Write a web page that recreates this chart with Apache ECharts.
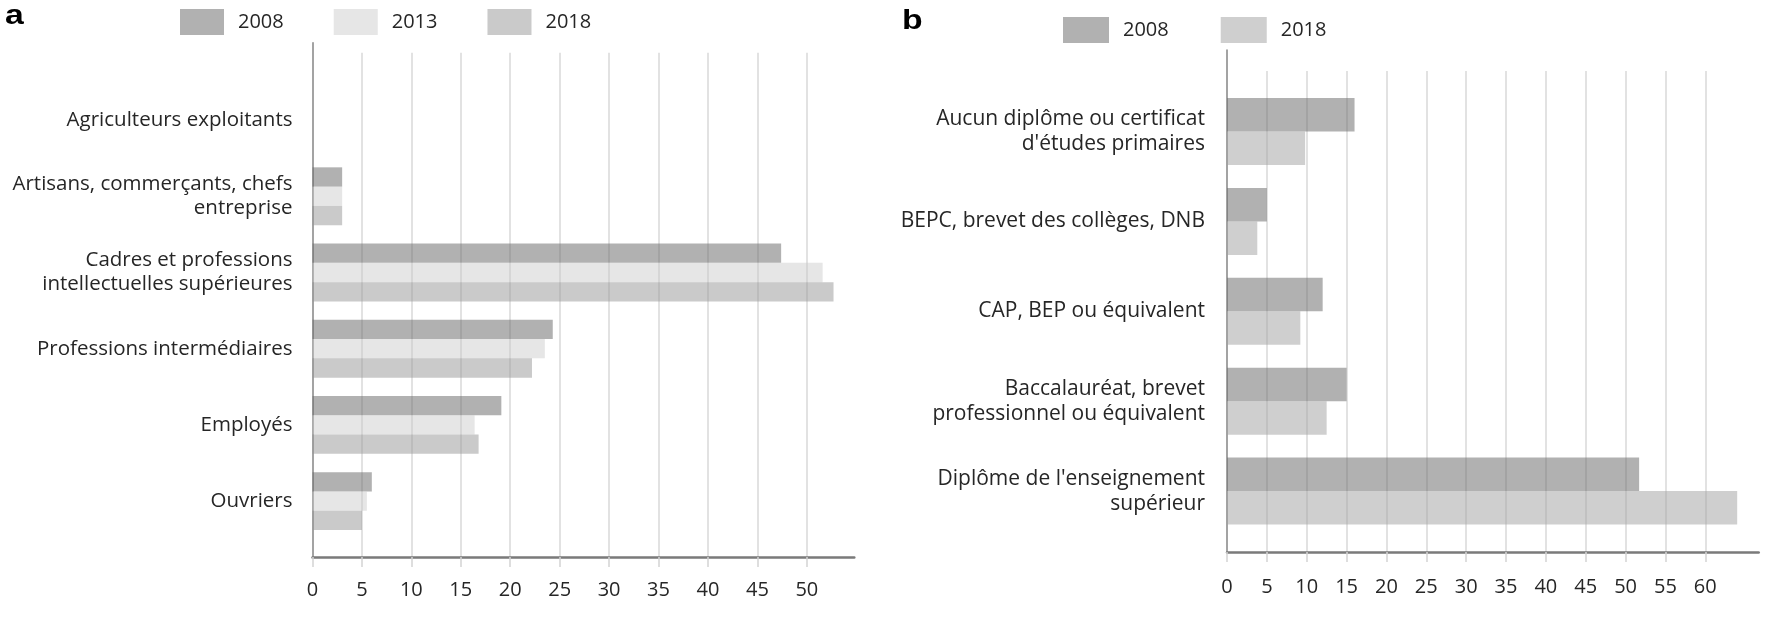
<!DOCTYPE html>
<html><head><meta charset="utf-8">
<script src="https://cdn.jsdelivr.net/npm/echarts@6/dist/echarts.min.js"></script>
<style>
html,body{margin:0;padding:0;background:#fff;width:1770px;height:619px;overflow:hidden}
#a{position:absolute;left:0;top:0;width:880px;height:619px}
#b{position:absolute;left:880px;top:0;width:890px;height:619px}
</style>
</head><body><div id="a"></div><div id="b"></div>
<script>
// ---- Data: panel a ----
const catsA = [
  'Agriculteurs exploitants',
  'Artisans, commerçants, chefs\nentreprise',
  'Cadres et professions\nintellectuelles supérieures',
  'Professions intermédiaires',
  'Employés',
  'Ouvriers'
];
const a2008 = [0, 3.0, 47.4, 24.3, 19.1, 6.0];
const a2013 = [0, 3.0, 51.6, 23.5, 16.4, 5.5];
const a2018 = [0, 3.0, 52.7, 22.2, 16.8, 5.0];
const ticksA = [0, 5, 10, 15, 20, 25, 30, 35, 40, 45, 50];

// ---- Data: panel b ----
const catsB = [
  'Aucun diplôme ou certificat\nd\'études primaires',
  'BEPC, brevet des collèges, DNB',
  'CAP, BEP ou équivalent',
  'Baccalauréat, brevet\nprofessionnel ou équivalent',
  'Diplôme de l\'enseignement\nsupérieur'
];
const b2008 = [16.0, 5.0, 12.0, 15.0, 51.7];
const b2018 = [9.8, 3.8, 9.2, 12.5, 64.0];
const ticksB = [0, 5, 10, 15, 20, 25, 30, 35, 40, 45, 50, 55, 60];

const FONT = 'Open Sans';
const TXT = '#262626';

function buildOption(p) {
  const w = p.x1 - p.x0;
  const series = p.series.map(s => ({
    type: 'bar', name: s.name, data: s.data,
    xAxisIndex: 2, yAxisIndex: 2,
    barGap: '0%', barCategoryGap: p.gap,
    itemStyle: { color: s.color },
    emphasis: { disabled: true }
  }));
  return {
    animation: false,
    graphic: [{
      type: 'text', x: p.letterX, y: p.letterY, scaleX: 1.25,
      style: { text: p.letter, font: 'bold 27px "Liberation Sans", Arial, sans-serif', fill: '#000', verticalAlign: 'top' }
    }],
    legend: {
      data: p.series.map(s => s.name),
      left: p.legendX, top: p.legendY, padding: 0,
      itemWidth: p.legendW, itemHeight: 26, itemGap: p.legendGap,
      icon: 'rect',
      textStyle: { fontFamily: FONT, fontSize: 20, color: TXT, padding: [0, 0, 0, 9] }
    },
    grid: [
      { left: p.x0, top: p.frameTop, width: w, height: p.axisY - p.frameTop, containLabel: false },
      { left: p.x0, top: p.axisTop, width: 10, height: p.axisY - p.axisTop, containLabel: false },
      { left: p.x0, top: p.bandTop, width: w, height: p.bandBottom - p.bandTop, containLabel: false }
    ],
    xAxis: [
      {
        gridIndex: 0, type: 'value', min: 0, max: p.max, interval: 5,
        axisLine: { show: true, onZero: false, lineStyle: { color: '#7a7a7a', width: 2.5 } },
        axisTick: { show: true, length: 10, customValues: p.ticks, lineStyle: { color: '#d4d4d4', width: 1.5 } },
        axisLabel: { show: true, customValues: p.ticks, fontFamily: FONT, fontSize: 20, color: TXT, margin: p.labelMargin },
        splitLine: { show: true, showMinLine: false, lineStyle: { color: '#d9d9d9', width: 1.5 } }
      },
      { gridIndex: 1, type: 'value', show: false, min: 0, max: 1 },
      { gridIndex: 2, type: 'value', show: false, min: 0, max: p.max }
    ],
    yAxis: [
      { gridIndex: 0, type: 'value', show: false, min: 0, max: 1 },
      {
        gridIndex: 1, type: 'value', min: 0, max: 1,
        axisLine: { show: true, onZero: false, lineStyle: { color: '#858585', width: 1.5 } },
        axisTick: { show: false }, axisLabel: { show: false }, splitLine: { show: false }
      },
      {
        gridIndex: 2, type: 'category', data: p.cats, inverse: true,
        axisLine: { show: false }, axisTick: { show: false }, splitLine: { show: false },
        axisLabel: { fontFamily: FONT, fontSize: p.catFont, color: TXT, margin: p.catMargin, lineHeight: p.lineH, align: 'right' }
      }
    ],
    series: series
  };
}

const optA = buildOption({
  letter: 'a', letterX: 5, letterY: 3,
  legendX: 180, legendY: 9, legendW: 44, legendGap: 50,
  x0: 312.5, x1: 854.3, frameTop: 52.7, axisTop: 42.7, axisY: 557,
  bandTop: 82, bandBottom: 539.2, max: 54.8, ticks: ticksA,
  gap: '24%', labelMargin: 23, catMargin: 20, lineH: 24, catFont: 20.5,
  cats: catsA,
  series: [
    { name: '2008', data: a2008, color: 'rgba(100,100,100,0.5)' },
    { name: '2013', data: a2013, color: 'rgba(200,200,200,0.45)' },
    { name: '2018', data: a2018, color: 'rgba(150,150,150,0.5)' }
  ]
});

const optB = buildOption({
  letter: 'b', letterX: 22, letterY: 8,
  legendX: 183, legendY: 17, legendW: 46, legendGap: 52,
  x0: 347, x1: 878.7, frameTop: 71, axisTop: 50, axisY: 552,
  bandTop: 86.6, bandBottom: 536, max: 66.7, ticks: ticksB,
  gap: '25.5%', labelMargin: 25, catMargin: 22, lineH: 25, catFont: 21,
  cats: catsB,
  series: [
    { name: '2008', data: b2008, color: 'rgba(100,100,100,0.5)' },
    { name: '2018', data: b2018, color: 'rgba(160,160,160,0.5)' }
  ]
});

echarts.init(document.getElementById('a'), null, { renderer: 'canvas' }).setOption(optA);
echarts.init(document.getElementById('b'), null, { renderer: 'canvas' }).setOption(optB);
</script>
</body></html>
